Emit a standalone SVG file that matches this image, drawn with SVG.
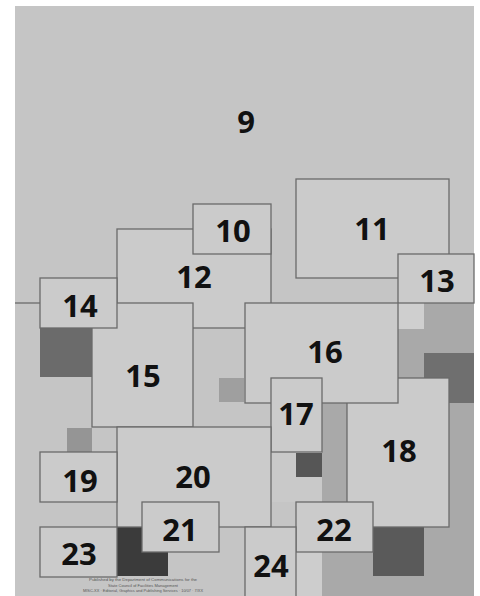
<svg xmlns="http://www.w3.org/2000/svg" width="480" height="596" viewBox="0 0 480 596">
<style>
.box{fill:#cbcbcb;stroke:#6a6a6a;stroke-width:1.3}
.lbl{font-family:"Open Sans","Noto Sans",sans-serif;font-weight:700;font-size:31px;fill:#111111;text-anchor:middle}
.fine{font-family:"Liberation Sans",sans-serif;font-size:4.2px;fill:#555;text-anchor:middle}
.mid{fill:#a9a9a9}
.ln{stroke:#6a6a6a;stroke-width:1.3;fill:none}
</style>
<rect x="0" y="0" width="480" height="596" fill="#ffffff"/>
<g id="node9">
<rect x="15" y="6" width="459" height="590" fill="#c5c5c5"/>
<text class="lbl" x="246" y="133">9</text>
</g>
<g id="shading">
<rect x="398" y="303" width="26" height="26" fill="#cfcfcf"/>
<rect class="mid" x="424" y="303" width="50" height="50"/>
<rect class="mid" x="398" y="329" width="26" height="49"/>
<rect class="mid" x="449" y="353" width="25" height="174"/>
<rect x="424" y="353" width="50" height="50" fill="#6f6f6f"/>
<rect class="mid" x="322" y="403" width="25" height="99"/>
<rect class="mid" x="373" y="527" width="101" height="25"/>
<rect class="mid" x="322" y="552" width="152" height="44"/>
<rect x="296" y="552" width="26" height="44" fill="#cdcdcd"/>
<rect x="40" y="328" width="52" height="49" fill="#6b6b6b"/>
<rect x="67" y="428" width="25" height="24" fill="#959595"/>
<rect x="219" y="378" width="25" height="24" fill="#9f9f9f"/>
<rect x="271" y="452" width="51" height="50" fill="#c9c9c9"/>
<rect x="296" y="453" width="26" height="24" fill="#565656"/>
<rect x="117" y="527" width="51" height="49" fill="#3b3b3b"/>
<rect x="373" y="527" width="51" height="49" fill="#5a5a5a"/>
</g>
<g id="connectors">
<line class="ln" x1="15" y1="303" x2="40" y2="303"/>
</g>
<g id="node11"><rect class="box" x="296" y="179" width="153" height="99"/><text class="lbl" x="372" y="240">11</text></g>
<g id="node13"><rect class="box" x="398" y="254" width="76" height="49"/><text class="lbl" x="437" y="292">13</text></g>
<g id="node12"><rect class="box" x="117" y="229" width="154" height="99"/><text class="lbl" x="194" y="288">12</text></g>
<g id="node10"><rect class="box" x="193" y="204" width="78" height="50"/><text class="lbl" x="233" y="242">10</text></g>
<g id="node15"><rect class="box" x="92" y="303" width="101" height="124"/><text class="lbl" x="143" y="387">15</text></g>
<g id="node14"><rect class="box" x="40" y="278" width="77" height="50"/><text class="lbl" x="80" y="317">14</text></g>
<g id="node18"><rect class="box" x="347" y="378" width="102" height="149"/><text class="lbl" x="399" y="462">18</text></g>
<g id="node16"><rect class="box" x="245" y="303" width="153" height="100"/><text class="lbl" x="325" y="363">16</text></g>
<g id="node17"><rect class="box" x="271" y="378" width="51" height="74"/><text class="lbl" x="296" y="425">17</text></g>
<g id="node20"><rect class="box" x="117" y="427" width="154" height="100"/><text class="lbl" x="193" y="488">20</text></g>
<g id="node19"><rect class="box" x="40" y="452" width="77" height="50"/><text class="lbl" x="80" y="492">19</text></g>
<g id="node23"><rect class="box" x="40" y="527" width="77" height="50"/><text class="lbl" x="79" y="565">23</text></g>
<g id="node21"><rect class="box" x="142" y="502" width="77" height="50"/><text class="lbl" x="180" y="541">21</text></g>
<g id="node22"><rect class="box" x="296" y="502" width="77" height="50"/><text class="lbl" x="334" y="541">22</text></g>
<g id="node24"><rect class="box" x="245" y="527" width="51" height="72"/><text class="lbl" x="271" y="577">24</text></g>
<g id="credits">
<text class="fine" x="143" y="581" textLength="108" lengthAdjust="spacingAndGlyphs">Published by the Department of Communications for the</text>
<text class="fine" x="143" y="586.5" textLength="70" lengthAdjust="spacingAndGlyphs">State Council of Facilities Management</text>
<text class="fine" x="143" y="592" textLength="120" lengthAdjust="spacingAndGlyphs">MISC-XX · Editorial, Graphics and Publishing Services · 10/07 · 7/XX</text>
</g>
</svg>
